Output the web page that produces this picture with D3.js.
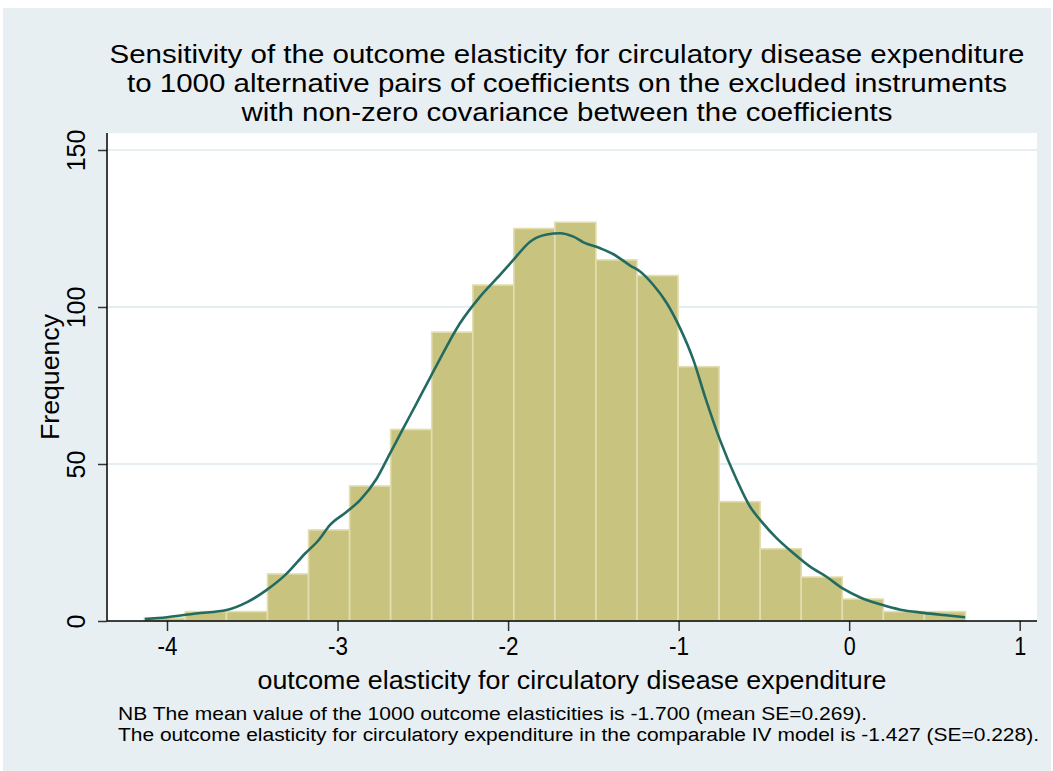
<!DOCTYPE html>
<html lang="en">
<head>
	<meta charset="utf-8">
	<title>Histogram</title>
	<style>
		body { margin: 0; background: #fff; }
		text { font-family: "Liberation Sans", Arial, sans-serif; fill: #000; }
		.grid line { stroke: #e6eef1; stroke-width: 2px; }
		.bar { fill: #c8c47f; stroke: #e2deb0; stroke-width: 1.6px; }
		.dens { fill: none; stroke: #236b61; stroke-width: 2.6px; }
	</style>
</head>
<body>
	<div id="chart"></div>

	<script src="https://cdn.jsdelivr.net/npm/d3@7"></script>
	<script>
		// histogram: 20 bins starting at binMin
		var binMin = -4.133,
		    binWidth = 0.24075;
		var counts = [1, 3, 3, 15, 29, 43, 61, 92, 107, 125, 127, 115, 110, 81, 38, 23, 14, 7, 3, 3];

		// kernel density overlay, scaled to frequency
		var densX = [-4.13, -4.0, -3.83, -3.65, -3.53, -3.415, -3.30, -3.19, -3.11, -3.044, -2.946, -2.868, -2.77,
		             -2.692, -2.614, -2.535, -2.457, -2.399, -2.282, -2.164, -2.047, -1.969, -1.871, -1.773, -1.695,
		             -1.617, -1.558, -1.46, -1.382, -1.284, -1.226, -1.148, -1.069, -0.991, -0.913, -0.845, -0.757,
		             -0.659, -0.581, -0.522, -0.424, -0.327, -0.229, -0.131, -0.033, 0.065, 0.182, 0.3, 0.436, 0.553, 0.68];
		var densY = [0.6, 1.2, 2.4, 3.5, 6.0, 9.9, 15.0, 21.5, 25.8, 30.6, 34.8, 38.5, 45.4,
		             53.4, 61.4, 69.5, 77.5, 83.5, 94.8, 103.3, 110.2, 115, 120.8, 123.1, 123.5,
		             122.4, 120.6, 118.7, 116.8, 113.2, 111.3, 107, 101.2, 93.2, 83.1, 71.4, 57.6,
		             44.9, 36.4, 32.2, 26.3, 21.6, 17.3, 14.0, 10.2, 7.5, 5.3, 3.6, 2.6, 1.9, 1.2];

		var xTicks = [-4, -3, -2, -1, 0, 1];
		var yTicks = [0, 50, 100, 150];

		var titleLines = [
			"Sensitivity of the outcome elasticity for circulatory disease expenditure",
			"to 1000 alternative pairs of coefficients on the excluded instruments",
			"with non-zero covariance between the coefficients"
		];
		var notes = [
			"NB The mean value of the 1000 outcome elasticities is -1.700 (mean SE=0.269).",
			"The outcome elasticity for circulatory expenditure in the comparable IV model is -1.427 (SE=0.228)."
		];
		var xTitle = "outcome elasticity for circulatory disease expenditure",
		    yTitle = "Frequency";

		var width = 1053,
		    height = 771;
		var plot = {left: 107, right: 1037, top: 133, bottom: 621};
		var fmt = function(d) { return String(d); };

		var svg = d3.select("#chart")
			.append("svg")
			.attr("width", width)
			.attr("height", height);

		// outer background and plot region
		svg.append("rect")
			.attr("x", 3).attr("y", 8)
			.attr("width", width - 5).attr("height", height - 8)
			.attr("fill", "#e8eff2");
		svg.append("rect")
			.attr("x", plot.left).attr("y", plot.top)
			.attr("width", plot.right - plot.left).attr("height", plot.bottom - plot.top)
			.attr("fill", "#fff");

		var x = d3.scaleLinear()
			.domain([-4, 1])
			.range([167, 1019.7]);
		var y = d3.scaleLinear()
			.domain([0, 150])
			.range([plot.bottom, 150]);

		// gridlines
		svg.append("g")
			.attr("class", "grid")
			.selectAll("line")
			.data(yTicks.filter(function(d) { return d > 0; }))
			.enter().append("line")
			.attr("x1", plot.left).attr("x2", plot.right)
			.attr("y1", function(d) { return y(d); })
			.attr("y2", function(d) { return y(d); });

		// bars
		svg.append("g")
			.selectAll("rect")
			.data(counts)
			.enter().append("rect")
			.attr("class", "bar")
			.attr("x", function(d, i) { return x(binMin + i * binWidth); })
			.attr("width", function(d, i) { return x(binMin + (i + 1) * binWidth) - x(binMin + i * binWidth); })
			.attr("y", function(d) { return y(d); })
			.attr("height", function(d) { return y(0) - y(d); });

		// density curve
		var line = d3.line()
			.x(function(d) { return x(d[0]); })
			.y(function(d) { return y(d[1]); })
			.curve(d3.curveMonotoneX);

		svg.append("path")
			.attr("class", "dens")
			.attr("d", line(d3.zip(densX, densY)));

		// axes
		var xAxis = svg.append("g")
			.attr("transform", "translate(0," + plot.bottom + ")")
			.call(d3.axisBottom(x).tickValues(xTicks).tickSize(10).tickPadding(6).tickFormat(fmt));
		xAxis.select(".domain").remove();
		xAxis.append("line")
			.attr("x1", plot.left).attr("x2", plot.right)
			.attr("stroke", "#000").attr("stroke-width", 1.5);
		xAxis.selectAll(".tick line").attr("stroke", "#333").attr("stroke-width", 1.5);
		xAxis.selectAll(".tick text")
			.attr("font-size", 25).attr("fill", "#000")
			.attr("font-family", null)
			.attr("textLength", function(d) { return d < 0 ? 20 : 12; })
			.attr("lengthAdjust", "spacingAndGlyphs");

		var yAxis = svg.append("g")
			.attr("transform", "translate(" + plot.left + ",0)")
			.call(d3.axisLeft(y).tickValues(yTicks).tickSize(9).tickPadding(0).tickFormat(fmt));
		yAxis.select(".domain").remove();
		yAxis.append("line")
			.attr("y1", plot.top).attr("y2", plot.bottom)
			.attr("stroke", "#000").attr("stroke-width", 1.5);
		yAxis.selectAll(".tick line").attr("stroke", "#333").attr("stroke-width", 1.5);
		yAxis.selectAll(".tick text")
			.attr("font-size", 25).attr("fill", "#000")
			.attr("font-family", null)
			.attr("x", null).attr("dy", null)
			.attr("text-anchor", "middle")
			.attr("transform", "translate(-22,0) rotate(-90)");

		// titles
		var titleW = [915, 880, 651];
		svg.append("g")
			.selectAll("text")
			.data(titleLines)
			.enter().append("text")
			.attr("x", 567)
			.attr("y", function(d, i) { return 63 + i * 29; })
			.attr("text-anchor", "middle")
			.attr("font-size", 25)
			.attr("textLength", function(d, i) { return titleW[i]; })
			.attr("lengthAdjust", "spacingAndGlyphs")
			.text(function(d) { return d; });

		svg.append("text")
			.attr("x", (plot.left + plot.right) / 2)
			.attr("y", 689)
			.attr("text-anchor", "middle")
			.attr("font-size", 25)
			.attr("textLength", 629)
			.attr("lengthAdjust", "spacingAndGlyphs")
			.text(xTitle);

		svg.append("text")
			.attr("transform", "translate(59," + ((plot.top + plot.bottom) / 2) + ") rotate(-90)")
			.attr("text-anchor", "middle")
			.attr("font-size", 25)
			.attr("textLength", 126)
			.attr("lengthAdjust", "spacingAndGlyphs")
			.text(yTitle);

		var noteW = [749, 921];
		svg.append("g")
			.selectAll("text")
			.data(notes)
			.enter().append("text")
			.attr("x", 118)
			.attr("y", function(d, i) { return 720 + i * 21; })
			.attr("font-size", 18)
			.attr("textLength", function(d, i) { return noteW[i]; })
			.attr("lengthAdjust", "spacingAndGlyphs")
			.text(function(d) { return d; });
	</script>
</body>
</html>
